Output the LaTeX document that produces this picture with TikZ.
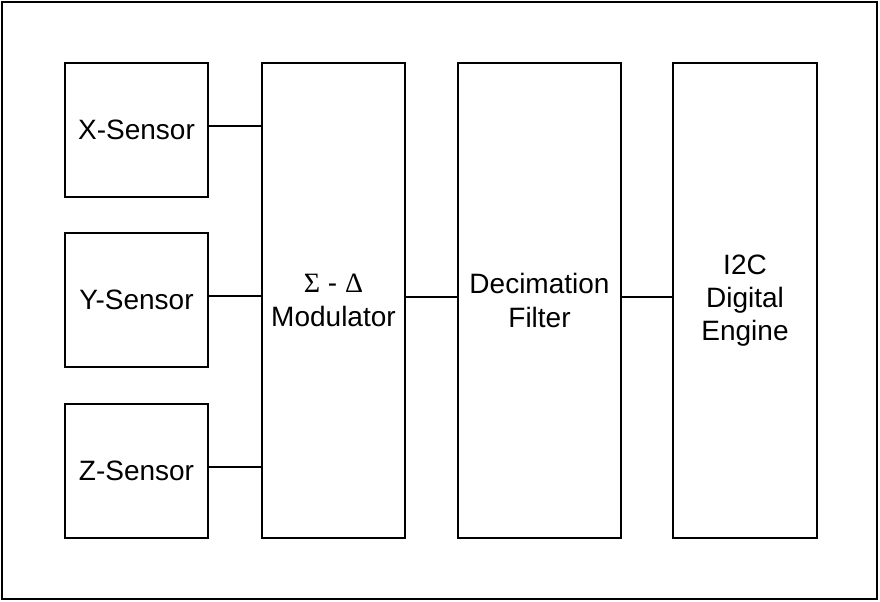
\documentclass[tikz,border=0pt]{standalone}
\usepackage{fontspec}
\setmainfont{Liberation Sans}
\newfontfamily\symb{Liberation Serif}
\tikzset{epais/.style={line width=1.5pt}}
\newcommand{\bloc}[6]{\node[bloc, minimum width=#4, minimum height=#5] (#1) at (#2,#3) {#6}}
\newcommand{\fil}[2]{\draw[epais] ([yshift=3pt]#1.east) -- ([yshift=3pt]#1.east -| #2.west)}

\begin{document}
\begin{tikzpicture}[x=0.75pt, y=-0.75pt,
	bloc/.style={draw, epais, align=center, inner sep=0pt,
		font=\fontsize{21}{25}\selectfont}]
\useasboundingbox (0,0) rectangle (880,602);
%Frame
	\draw[epais] (2,2) rectangle (877,599);
%The sensors
	\bloc{xs}{136.5}{130}{107.25pt}{100.5pt}{X-Sensor};
	\bloc{ys}{136.5}{300}{107.25pt}{100.5pt}{Y-Sensor};
	\bloc{zs}{136.5}{470.5}{107.25pt}{100.5pt}{Z-Sensor};
%The chain
	\bloc{mod}{333.5}{300.5}{107.25pt}{356.25pt}{{\symb\char"03A3} - {\symb\char"0394}\\Modulator};
	\bloc{dec}{539.5}{300.5}{122.25pt}{356.25pt}{Decimation\\Filter};
	\bloc{eng}{745}{300.5}{108pt}{356.25pt}{I2C\\Digital\\Engine};
%Wires
	\fil{xs}{mod};
	\fil{ys}{mod};
	\fil{zs}{mod};
	\fil{mod}{dec};
	\fil{dec}{eng};
\end{tikzpicture}
\end{document}
